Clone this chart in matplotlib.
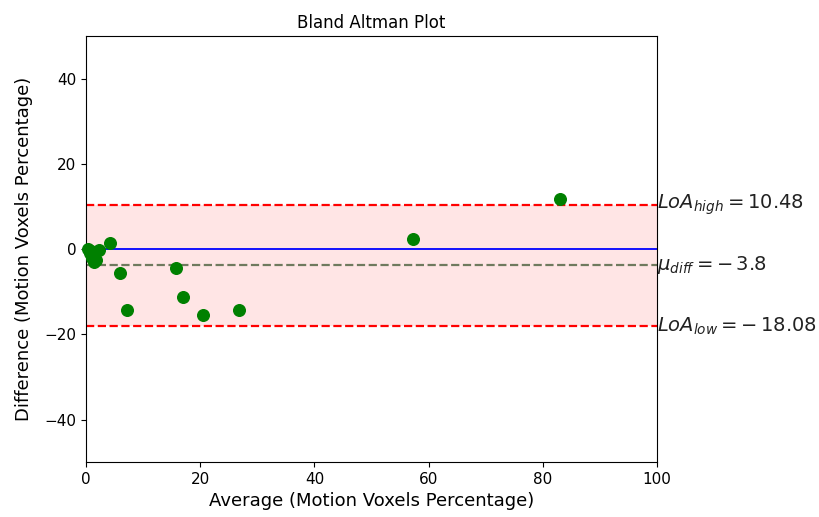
import matplotlib
matplotlib.use('Agg')
import matplotlib.pyplot as plt

# averages and differences
avg = [0.3, 0.6, 0.9, 1.0, 1.3, 1.8, 2.3, 4.2, 5.9, 7.1, 15.7, 17.0, 20.5, 26.8, 57.3, 83.0]
diff = [0.0, -1.0, -0.5, -2.0, -3.0, -2.5, -0.3, 1.5, -5.6, -14.2, -4.5, -11.2, -15.4, -14.2, 2.5, 11.8]

mean_diff = -3.8
loa_high = 10.48
loa_low = -18.08

fig = plt.figure(figsize=(8.2, 5.17), dpi=100)
ax = fig.add_axes([0.105, 0.106, 0.696, 0.824])

ax.axhspan(loa_low, loa_high, color='red', alpha=0.1, lw=0)
ax.axhline(0, color='blue', lw=1.3)
ax.axhline(mean_diff, color='#6f7a5e', ls='--', lw=1.6)
ax.axhline(loa_high, color='red', ls='--', lw=1.6)
ax.axhline(loa_low, color='red', ls='--', lw=1.6)
ax.scatter(avg, diff, color='green', s=70, zorder=3, clip_on=False)

ax.set_xlim(0, 100)
ax.set_ylim(-50, 50)
ax.set_xticks([0, 20, 40, 60, 80, 100])
ax.set_yticks([-40, -20, 0, 20, 40])
ax.tick_params(labelsize=11)

# old-style mathtext spacing: "= - 3.8"
ax.text(100, loa_high, '$LoA_{high} = %.2f$' % loa_high, fontsize=14, va='center', ha='left', color='#222222')
ax.text(100, mean_diff, '$\\mu_{diff} = -\\,%.1f$' % abs(mean_diff), fontsize=14, va='center', ha='left', color='#222222')
ax.text(100, loa_low, '$LoA_{low} = -\\,%.2f$' % abs(loa_low), fontsize=14, va='center', ha='left', color='#222222')

ax.set_title('Bland Altman Plot', fontsize=12)
ax.set_xlabel('Average (Motion Voxels Percentage)', fontsize=13)
ax.set_ylabel('Difference (Motion Voxels Percentage)', fontsize=13, labelpad=8)

fig.savefig('out.png', dpi=100)
